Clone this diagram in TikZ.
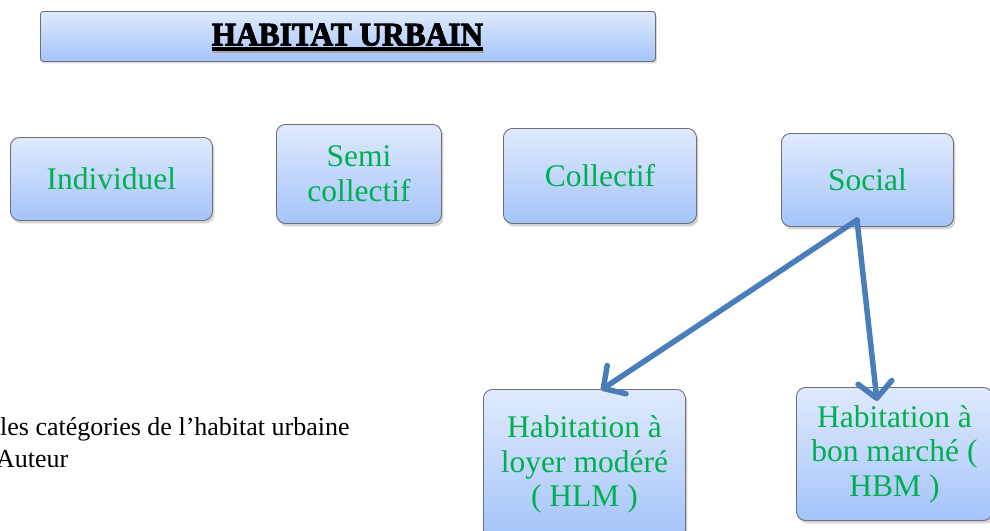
\documentclass[tikz,border=0pt]{standalone}
\usepackage{fontspec}
\setmainfont{Liberation Serif}
\newfontfamily\titleheavy[FakeBold=3]{Liberation Serif Bold}
\usetikzlibrary{shadows,arrows.meta,calc}
\definecolor{boxtop}{RGB}{224,234,253}
\definecolor{boxbot}{RGB}{164,196,250}
\definecolor{boxline}{RGB}{110,110,115}
\definecolor{txtgreen}{RGB}{0,176,80}
\definecolor{arrowblue}{RGB}{74,126,187}
\tikzset{
  catbox/.style={draw=boxline, line width=0.9pt, rounded corners=9pt,
    top color=boxtop, bottom color=boxbot, anchor=north west,
    text=txtgreen, align=center, inner sep=0pt,
    font=\fontsize{31.5}{34.5}\selectfont,
    drop shadow={opacity=0.35, shadow xshift=2pt, shadow yshift=-3pt}},
  titlebox/.style={draw=boxline, line width=0.9pt, rounded corners=3pt,
    top color=boxtop, bottom color=boxbot, anchor=north west, inner sep=0pt,
    drop shadow={opacity=0.3, shadow xshift=1.5pt, shadow yshift=-2pt}},
  titletxt/.style={anchor=base, inner sep=0pt},
  linkarrow/.style={draw=arrowblue, line width=5.5pt, line cap=round,
    -{Straight Barb[length=16pt, width=34pt, line width=5.5pt, round]}},
  captxt/.style={anchor=base west, inner sep=0pt, font=\fontsize{26}{30}\selectfont}
}
\begin{document}
\begin{tikzpicture}[x=1pt, y=-1pt]
\useasboundingbox (0,0) rectangle (990,530);
% title
\node[titlebox, minimum width=615pt, minimum height=50pt] (title) at (40,11) {};
\node[titletxt, text=black, font=\fontsize{33}{36}\titleheavy] (ttl) at (347.5,45.5) {\scalebox{0.95}[1]{HABITAT URBAIN}};
\draw[line width=3.5pt] ([yshift=-3.5pt]ttl.base west) -- ([yshift=-3.5pt]ttl.base east);
\draw[line width=1.5pt, black!35] ([yshift=-6.5pt,xshift=1pt]ttl.base west) -- ([yshift=-6.5pt,xshift=1pt]ttl.base east);
% categories
\node[catbox, minimum width=202pt, minimum height=83pt] (ind) at (10,137) {Individuel};
\node[catbox, minimum width=165pt, minimum height=99pt] (semi) at (276,124) {Semi\\collectif};
\node[catbox, minimum width=193pt, minimum height=95pt] (coll) at (503,128) {Collectif};
\node[catbox, minimum width=172pt, minimum height=93pt] (soc) at (781,133) {Social};
\node[catbox, minimum width=202pt, minimum height=150pt] (hlm) at (483,389) {Habitation à\\loyer modéré\\( HLM )};
\node[catbox, minimum width=196pt, minimum height=133pt] (hbm) at (796,387) {Habitation à\\bon marché (\\HBM )};
% arrows
\coordinate (src) at (857,220);
\coordinate (hlmtip) at (601,390);
\coordinate (hbmtip) at (877,401);
\draw[linkarrow] (src) -- (hlmtip);
\draw[linkarrow] (src) -- (hbmtip);
% caption
\node[captxt] (cap1) at (0,435) {les catégories de l’habitat urbaine};
\node[captxt] (cap2) at (-4,467) {Auteur};
\end{tikzpicture}
\end{document}
